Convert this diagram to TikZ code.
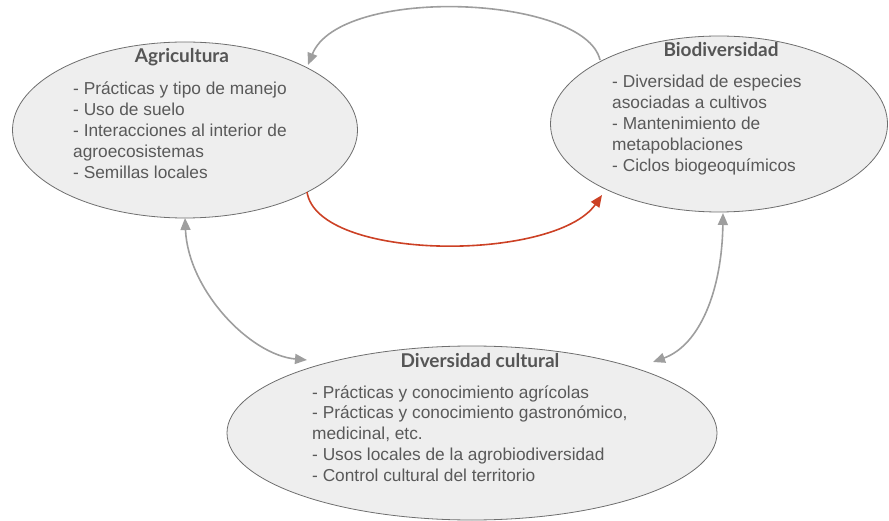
\documentclass[tikz,border=0pt]{standalone}
\usepackage{fontspec}
\setmainfont{Liberation Sans}
\newfontfamily\titlefont{Lato}
\usetikzlibrary{shapes.geometric,arrows.meta,calc}
\definecolor{txtgrey}{HTML}{595959}
\definecolor{ttlgrey}{HTML}{555555}
\definecolor{fillgrey}{HTML}{EEEEEE}
\definecolor{edgegrey}{HTML}{6E6E6E}
\definecolor{arrgrey}{HTML}{9E9E9E}
\definecolor{arrred}{HTML}{CC4125}
\begin{document}
\begin{tikzpicture}[x=1pt,y=-1pt,
  blob/.style={ellipse,draw=edgegrey,fill=fillgrey,line width=0.8pt,inner sep=0pt},
  body/.style={anchor=base west,inner sep=0pt,align=left,text=txtgrey,
     font=\fontsize{17.3}{20.9}\selectfont},
  ttl/.style={anchor=base,inner sep=0pt,text=ttlgrey,
     font=\titlefont\bfseries\fontsize{19}{22}\selectfont},
  garrow/.style={draw=arrgrey,line width=1.6pt,-{Triangle[length=12pt,width=10pt]}},
  darrow/.style={draw=arrgrey,line width=1.6pt,{Triangle[length=12pt,width=10pt]}-{Triangle[length=12pt,width=10pt]}},
  rarrow/.style={draw=arrred,line width=1.6pt,-{Triangle[length=12pt,width=10pt]}}]
\useasboundingbox (0,0) rectangle (889,521);

\node[blob,minimum width=345pt,minimum height=176pt] (agri) at (185,130) {};
\node[blob,minimum width=337pt,minimum height=176pt] (bio) at (719,124) {};
\node[blob,minimum width=490pt,minimum height=174pt] (cult) at (472,433) {};

% body nodes: anchor base = baseline of the last line
\node[ttl] (agrittl) at (182,63) {Agricultura};
\node[body] (agritxt) at (73,178.6) {- Prácticas y tipo de manejo\\- Uso de suelo\\- Interacciones al interior de\\agroecosistemas\\- Semillas locales};

\node[ttl] (biottl) at (721,57) {Biodiversidad};
\node[body] (biotxt) at (612,171.6) {- Diversidad de especies\\asociadas a cultivos\\- Mantenimiento de\\metapoblaciones\\- Ciclos biogeoquímicos};

\node[ttl] (cultttl) at (480,367) {Diversidad cultural};
\node[body] (culttxt) at (312,481.6) {- Prácticas y conocimiento agrícolas\\- Prácticas y conocimiento gastronómico,\\medicinal, etc.\\- Usos locales de la agrobiodiversidad\\- Control cultural del territorio};

% top arrow: Biodiversidad -> Agricultura
\draw[garrow] ($(bio.center)+(-119,-64)$) .. controls (585,-5) and (340,-15) .. ($(agri.center)+(123,-65)$);
% red arrow: Agricultura -> Biodiversidad
\draw[rarrow] ($(agri.center)+(122,62)$) .. controls (318,262) and (555,262) .. ($(bio.center)+(-117,71)$);
% left double arrow
\draw[darrow] ($(agri.center)+(0,88)$) .. controls (188,290) and (250,355) .. ($(cult.center)+(-165,-73)$);
% right double arrow
\draw[darrow] ($(bio.center)+(4,89)$) .. controls (722,290) and (700,345) .. ($(cult.center)+(181,-71)$);
\end{tikzpicture}
\end{document}
